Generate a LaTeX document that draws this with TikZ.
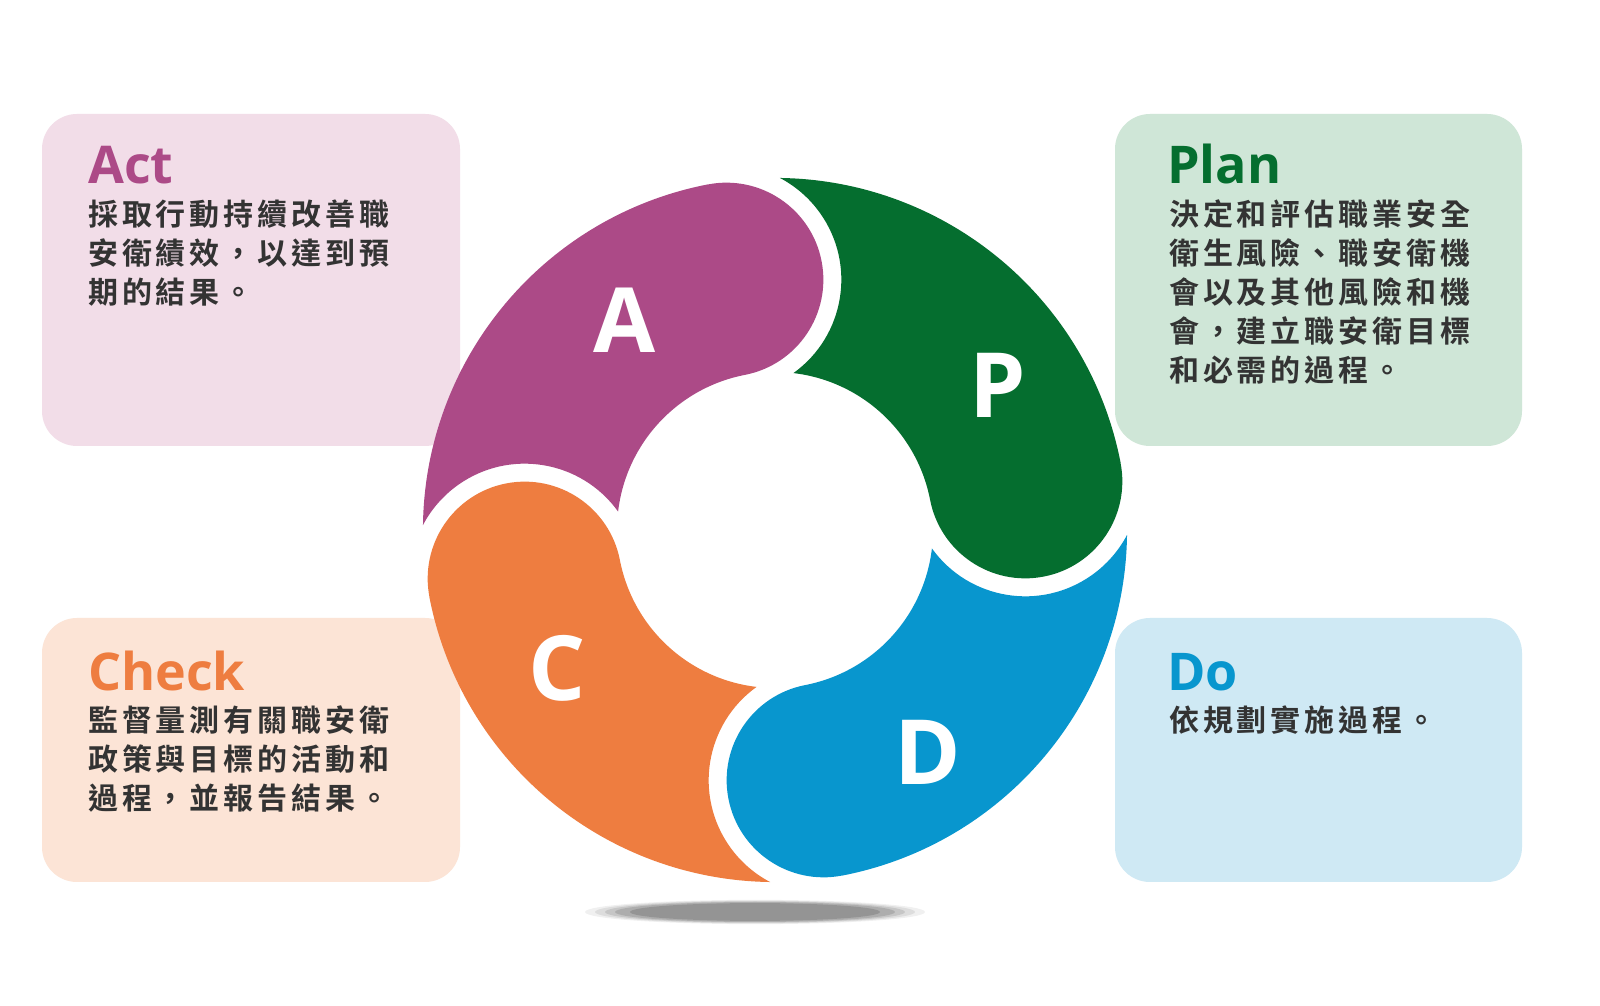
\documentclass[tikz,border=0pt]{standalone}
\usepackage{fontspec}
\setmainfont{Open Sans}
\newfontfamily\cjk{Noto Sans CJK TC}[LetterSpace=13,BoldFont={* Bold}]
\definecolor{cpur}{HTML}{AC4A87}
\definecolor{cgrn}{HTML}{056E2F}
\definecolor{cblu}{HTML}{0896CE}
\definecolor{cora}{HTML}{EE7D40}
\definecolor{bpur}{HTML}{F2DDE8}
\definecolor{bgrn}{HTML}{CFE6D7}
\definecolor{bora}{HTML}{FCE4D6}
\definecolor{bblu}{HTML}{CFE9F4}
\definecolor{txt}{HTML}{333333}
\begin{document}
\begin{tikzpicture}[x=1pt,y=1pt,
  infobox/.style={rounded corners=35pt},
  ttl/.style={anchor=base west,inner sep=0,font={\bfseries\fontsize{52}{60}\selectfont}},
  body/.style={anchor=north west,inner sep=0,align=left,text=txt,font={\cjk\bfseries\fontsize{30}{39}\selectfont}},
  letter/.style={text=white,inner sep=0,font={\bfseries\fontsize{90}{100}\selectfont}},
  seg/.pic={\fill[#1] (0:352) arc[start angle=0,end angle=-180,radius=97]
      arc[start angle=0,end angle=72.3,radius=158]
      arc[start angle=-65.3,end angle=51.2,radius=115]
      arc[start angle=78.2,end angle=0,radius=352] -- cycle;}
]
\useasboundingbox (0,0) rectangle (1600,1006);
\fill[white] (0,0) rectangle (1600,1006);
% boxes
\fill[bpur,infobox] (42,560) rectangle (460,892);
\fill[bgrn,infobox] (1115,560) rectangle (1522,892);
\fill[bora,infobox] (42,124) rectangle (460,388);
\fill[bblu,infobox] (1115,124) rectangle (1522,388);
% shadow
\foreach \r/\o in {170/0.06,160/0.08,150/0.1,140/0.12,125/0.14}
  \fill[black,opacity=\o] (755,94) ellipse[x radius=\r,y radius={\r/14}];
% ring
\begin{scope}[shift={(775,476)}]
  \pic[rotate=101] {seg=cpur};
  \pic[rotate=11] {seg=cgrn};
  \pic[rotate=-79] {seg=cblu};
  \pic[rotate=191] {seg=cora};
\end{scope}
\node[letter] (la) at (625,686) {A};
\node[letter] (lp) at (998,621) {P};
\node[letter] (lc) at (557,338) {C};
\node[letter] (ld) at (928,254) {D};
% titles
\node[ttl,text=cpur] (tact) at (88,822) {Act};
\node[ttl,text=cgrn] (tplan) at (1167,822) {Plan};
\node[ttl,text=cora] (tcheck) at (88,315) {Check};
\node[ttl,text=cblu] (tdo) at (1167,315) {Do};
% bodies
\node[body] (bact) at (88,806) {採取行動持續改善職\\安衛績效，以達到預\\期的結果。};
\node[body] (bplan) at (1169,806) {決定和評估職業安全\\衛生風險、職安衛機\\會以及其他風險和機\\會，建立職安衛目標\\和必需的過程。};
\node[body] (bcheck) at (88,300) {監督量測有關職安衛\\政策與目標的活動和\\過程，並報告結果。};
\node[body] (bdo) at (1169,300) {依規劃實施過程。};
\end{tikzpicture}
\end{document}
